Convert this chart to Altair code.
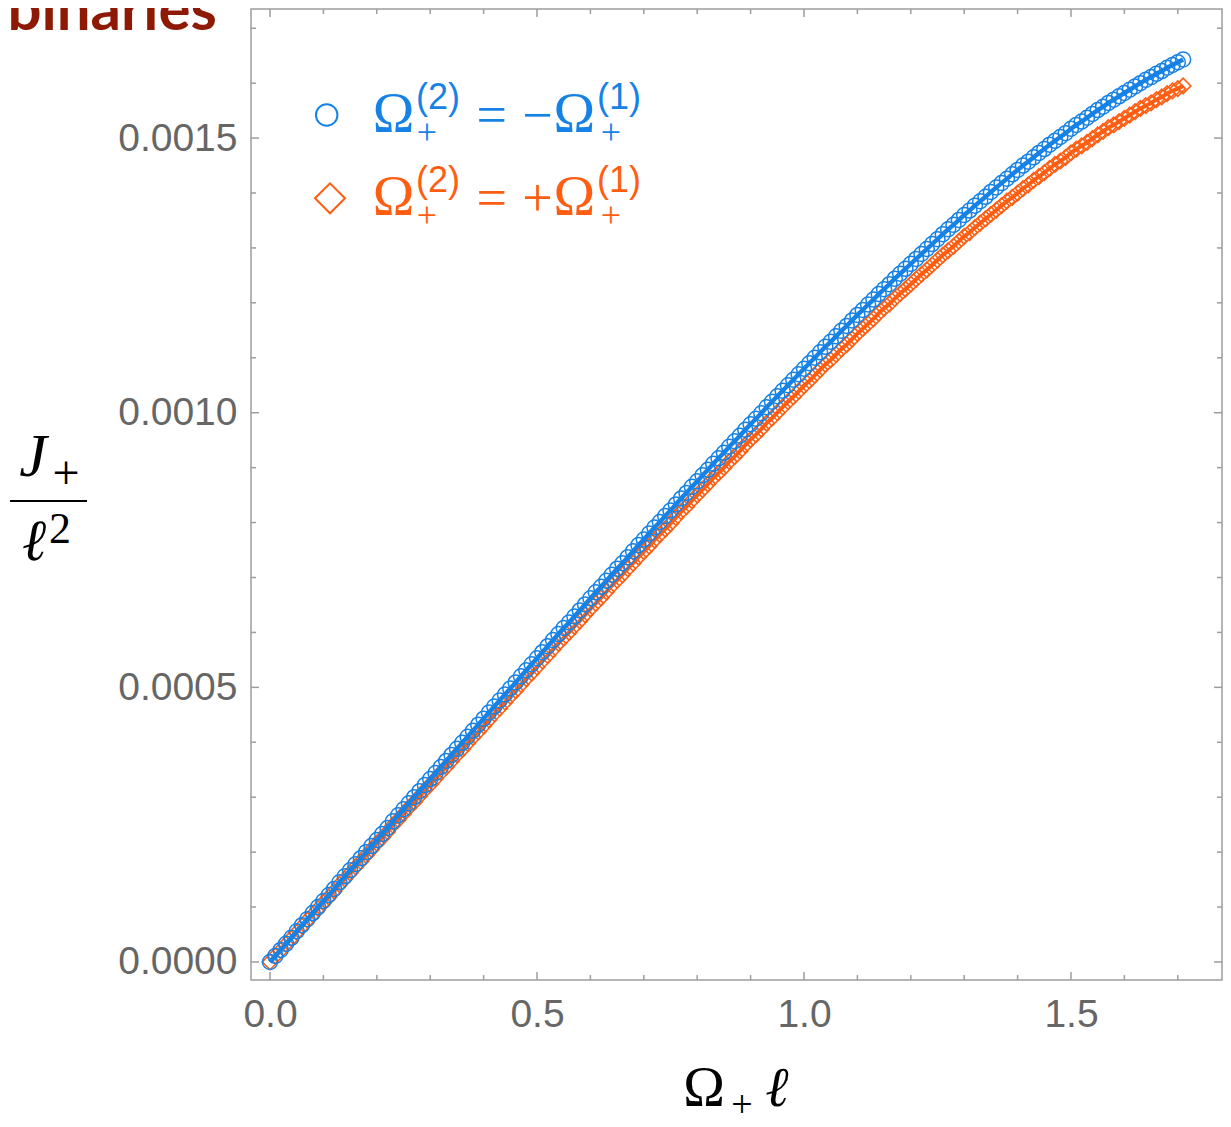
import altair as alt
import pandas as pd

# ---------------- data ----------------
STEP = 0.01  # spacing of the sampled Omega_+ ell values
# J_+/ell^2 in units of 1e-6, blue series: Omega^(2) = -Omega^(1)
blue_j = [0, 11, 22, 33, 44, 56, 67, 78, 89, 100,
          111, 122, 133, 145, 156, 167, 178, 189, 200, 211,
          222, 233, 244, 256, 267, 278, 289, 300, 311, 322,
          333, 344, 355, 366, 377, 388, 399, 410, 421, 432,
          443, 454, 465, 476, 487, 498, 509, 520, 531, 542,
          553, 564, 575, 586, 597, 608, 618, 629, 640, 651,
          662, 673, 683, 694, 705, 716, 726, 737, 748, 759,
          769, 780, 791, 801, 812, 822, 833, 844, 854, 865,
          875, 886, 896, 907, 917, 927, 938, 948, 958, 969,
          979, 989, 999, 1010, 1020, 1030, 1040, 1050, 1060, 1070,
          1080, 1090, 1100, 1110, 1120, 1129, 1139, 1149, 1158, 1168,
          1178, 1187, 1197, 1206, 1216, 1225, 1234, 1244, 1253, 1262,
          1271, 1280, 1289, 1298, 1307, 1316, 1325, 1334, 1342, 1351,
          1360, 1368, 1377, 1385, 1393, 1402, 1410, 1418, 1426, 1434,
          1442, 1450, 1457, 1465, 1473, 1480, 1488, 1495, 1502, 1509,
          1517, 1524, 1530, 1537, 1544, 1551, 1557, 1564, 1570, 1576,
          1582, 1588, 1594, 1600, 1606, 1611, 1617, 1622, 1628, 1633,
          1638, 1643]
# orange series: Omega^(2) = +Omega^(1)
orange_j = [0, 11, 21, 32, 43, 54, 65, 76, 86, 97,
            108, 118, 129, 141, 151, 162, 173, 183, 194, 205,
            216, 226, 237, 249, 259, 270, 281, 291, 302, 313,
            323, 334, 345, 355, 366, 377, 387, 398, 409, 419,
            430, 441, 452, 462, 473, 484, 494, 505, 516, 526,
            537, 548, 558, 569, 580, 590, 600, 611, 621, 632,
            643, 653, 663, 674, 685, 695, 705, 716, 726, 737,
            747, 757, 768, 778, 788, 798, 809, 820, 829, 840,
            850, 860, 870, 881, 890, 900, 911, 920, 930, 941,
            951, 960, 970, 981, 990, 1000, 1010, 1020, 1029, 1039,
            1049, 1058, 1068, 1078, 1088, 1096, 1106, 1116, 1124, 1134,
            1144, 1153, 1162, 1171, 1181, 1190, 1198, 1208, 1217, 1225,
            1234, 1243, 1252, 1260, 1269, 1278, 1287, 1295, 1303, 1312,
            1321, 1328, 1337, 1345, 1353, 1361, 1369, 1377, 1385, 1392,
            1400, 1408, 1415, 1423, 1430, 1437, 1445, 1452, 1458, 1465,
            1473, 1480, 1486, 1492, 1499, 1506, 1512, 1519, 1524, 1530,
            1536, 1542, 1548, 1554, 1559, 1564, 1570, 1575, 1581, 1586,
            1590, 1595]

x_major = [0.0, 0.5, 1.0, 1.5]
x_minor = [0.1, 0.2, 0.3, 0.4, 0.6, 0.7, 0.8, 0.9, 1.1, 1.2, 1.3, 1.4, 1.6, 1.7]
y_major = [0.0, 0.0005, 0.0010, 0.0015]
y_minor = [0.0001, 0.0002, 0.0003, 0.0004, 0.0006, 0.0007, 0.0008, 0.0009,
           0.0011, 0.0012, 0.0013, 0.0014, 0.0016, 0.0017]

# ---------------- tables ----------------
n = min(len(blue_j), len(orange_j))
xv = [round(i * STEP, 3) for i in range(n)]
df_blue = pd.DataFrame({"x": xv, "j": [v * 1e-6 for v in blue_j[:n]]})
df_orange = pd.DataFrame({"x": xv, "j": [v * 1e-6 for v in orange_j[:n]]})
dummy = pd.DataFrame({"d": [0]})

BLUE = "#1782e6"
ORANGE = "#ff5e12"
FRAME = "#9d9d9d"
LABEL = "#666666"
W = H = 971

xs = alt.Scale(domain=[-0.0356, 1.7828], nice=False, zero=False)
ys = alt.Scale(domain=[-0.0000328, 0.001735], nice=False, zero=False)

x_axis = alt.Axis(values=x_major, format=".1f", labelFontSize=39,
                  labelFont="Liberation Sans", labelColor=LABEL, tickSize=0,
                  domain=False, grid=False, labelPadding=15, title=None,
                  labelFlush=False)
y_axis = alt.Axis(values=y_major, format=".4f", labelFontSize=39,
                  labelFont="Liberation Sans", labelColor=LABEL, tickSize=0,
                  domain=False, grid=False, labelPadding=14, title=None,
                  labelFlush=False)


def X(field):
    return alt.X(field, scale=xs, axis=x_axis)


def Y(field):
    return alt.Y(field, scale=ys, axis=y_axis)


layers = []

# orange series
layers.append(alt.Chart(df_orange).mark_line(color=ORANGE, strokeWidth=4).encode(
    x=X("x:Q"), y=Y("j:Q")))
layers.append(alt.Chart(df_orange).mark_point(shape="diamond", filled=False, size=240,
                                              strokeWidth=1.6, color=ORANGE, opacity=1).encode(
    x=X("x:Q"), y=Y("j:Q")))
# blue series
layers.append(alt.Chart(df_blue).mark_line(color=BLUE, strokeWidth=4.5).encode(
    x=X("x:Q"), y=Y("j:Q")))
layers.append(alt.Chart(df_blue).mark_point(shape="circle", filled=False, size=225,
                                            strokeWidth=1.5, color=BLUE, opacity=1).encode(
    x=X("x:Q"), y=Y("j:Q")))


# frame ticks pointing inward
def xticks(vals, y0, y1):
    return alt.Chart(pd.DataFrame({"v": vals})).mark_rule(color=FRAME, strokeWidth=1.5).encode(
        x=X("v:Q"), y=alt.value(y0), y2=alt.value(y1))


def yticks(vals, x0, x1):
    return alt.Chart(pd.DataFrame({"v": vals})).mark_rule(color=FRAME, strokeWidth=1.5).encode(
        y=Y("v:Q"), x=alt.value(x0), x2=alt.value(x1))


layers += [xticks(x_major, H, H - 8), xticks(x_minor, H, H - 5),
           xticks(x_major, 0, 8), xticks(x_minor, 0, 5),
           yticks(y_major, 0, 8), yticks(y_minor, 0, 5),
           yticks(y_major, W, W - 8), yticks(y_minor, W, W - 5)]


def txt(s, x, y, size, color="black", font="Liberation Serif", style="normal",
        baseline="alphabetic", align="center", weight="normal"):
    return alt.Chart(dummy).mark_text(text=s, fontSize=size, font=font, fontStyle=style,
                                      baseline=baseline, align=align, color=color,
                                      fontWeight=weight).encode(
        x=alt.value(x), y=alt.value(y))


# cut-off slide title
layers.append(txt("binaries", -34, 21, 60, color="#8e1a05", font="Comic Sans MS, Lato",
                  weight="bold", align="right"))

# y title  J_+ / l^2
layers.append(txt("J", -218, 467, 62, style="italic"))
layers.append(txt("+", -185, 466, 48, baseline="middle"))
layers.append(alt.Chart(dummy).mark_rule(color="black", strokeWidth=2).encode(
    x=alt.value(-241), x2=alt.value(-164), y=alt.value(492)))
layers.append(txt("ℓ", -217, 551, 58, font="DejaVu Serif", style="italic"))
layers.append(txt("2", -191, 534, 44))

# x title  Omega_+ l
layers.append(txt("Ω", 453, 1097, 56))
layers.append(txt("+", 491, 1097, 38, baseline="middle"))
layers.append(txt("ℓ", 526, 1097, 56, font="DejaVu Serif", style="italic"))

# legend
for dy, col, sign in [(0, BLUE, "−"), (83, ORANGE, "+")]:
    if dy == 0:
        layers.append(alt.Chart(dummy).mark_point(shape="circle", filled=False, size=460,
                                                  strokeWidth=2, color=col, opacity=1).encode(
            x=alt.value(75.7), y=alt.value(106)))
    else:
        layers.append(alt.Chart(dummy).mark_point(shape="diamond", filled=False, size=900,
                                                  strokeWidth=2, color=col, opacity=1).encode(
            x=alt.value(79), y=alt.value(189.3)))
    layers.append(txt("Ω", 142.5, 122.7 + dy, 56, color=col))
    layers.append(txt("(2)", 187, 89 + dy, 36, color=col, font="Liberation Sans", baseline="middle"))
    layers.append(txt("+", 176, 124 + dy, 36, color=col, baseline="middle"))
    layers.append(txt("=", 240.7, 107.7 + dy, 54, color=col, baseline="middle"))
    layers.append(txt(sign, 286.5, 107.7 + dy, 54, color=col, baseline="middle"))
    layers.append(txt("Ω", 323.2, 122.7 + dy, 56, color=col))
    layers.append(txt("(1)", 368, 89 + dy, 36, color=col, font="Liberation Sans", baseline="middle"))
    layers.append(txt("+", 360, 124 + dy, 36, color=col, baseline="middle"))

chart = alt.layer(*layers).properties(
    width=W, height=H,
    padding={"left": 243, "top": 1, "right": 1, "bottom": 139},
    autosize=alt.AutoSizeParams(type="none"),
).configure_view(stroke=FRAME, strokeWidth=1.5)

chart.save("out.html", embed_options={"renderer": "svg", "actions": False})
